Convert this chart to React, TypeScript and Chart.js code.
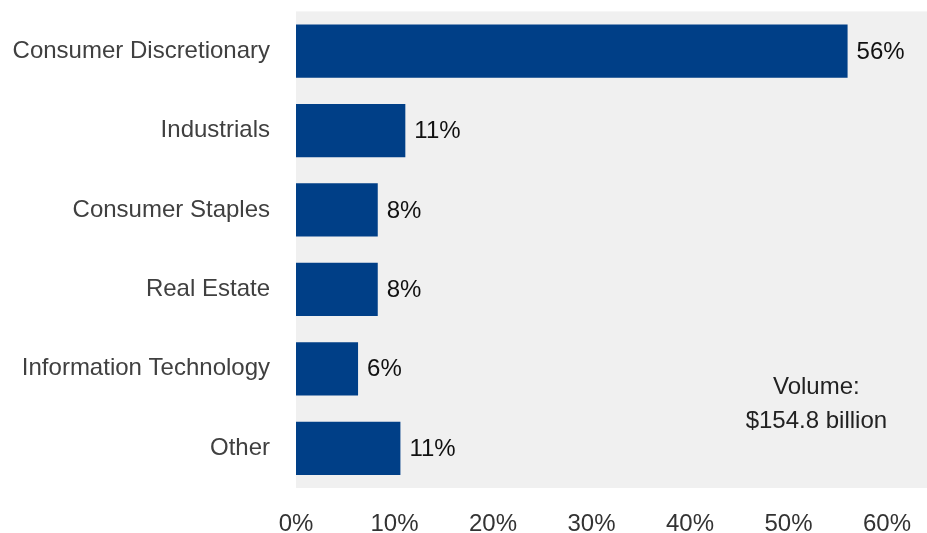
import React, { useEffect, useRef } from "react";
import { Chart, registerables } from "chart.js";

Chart.register(...registerables);

const categories = [
  "Consumer Discretionary",
  "Industrials",
  "Consumer Staples",
  "Real Estate",
  "Information Technology",
  "Other",
];
const shares = [56, 11.1, 8.3, 8.3, 6.3, 10.6];
const shareLabels = ["56%", "11%", "8%", "8%", "6%", "11%"];
const xTicks = [0, 10, 20, 30, 40, 50, 60];
const annotationLines = ["Volume:", "$154.8 billion"];

const FONT = "'Liberation Sans', Arial, sans-serif";

export default function App() {
  const ref = useRef<HTMLCanvasElement | null>(null);

  useEffect(() => {
    document.body.style.margin = "0";
    const canvas = ref.current!;
    const bgPlugin = {
      id: "bg",
      beforeDraw(chart: any) {
        const { ctx, chartArea } = chart;
        ctx.save();
        ctx.fillStyle = "#f0f0f0";
        ctx.fillRect(chartArea.left, chartArea.top, chartArea.right - chartArea.left, chartArea.bottom - chartArea.top);
        ctx.restore();
      },
    };
    const labelPlugin = {
      id: "labels",
      afterDatasetsDraw(chart: any) {
        const { ctx, chartArea } = chart;
        const meta = chart.getDatasetMeta(0);
        ctx.save();
        ctx.font = `24px ${FONT}`;
        ctx.fillStyle = "#111111";
        ctx.textBaseline = "middle";
        ctx.textAlign = "left";
        meta.data.forEach((el: any, i: number) => {
          ctx.fillText(shareLabels[i], el.x + 9, el.y + 1);
        });
        ctx.fillStyle = "#222222";
        ctx.textAlign = "center";
        const cx = chartArea.right - 112;
        ctx.fillText(annotationLines[0], cx, chartArea.top + 376);
        ctx.fillText(annotationLines[1], cx, chartArea.top + 410);
        ctx.restore();
      },
    };
    const chart = new Chart(canvas, {
      type: "bar",
      data: {
        labels: categories,
        datasets: [
          {
            data: shares,
            backgroundColor: "#003f87",
            borderWidth: 0,
            categoryPercentage: 1,
            barPercentage: 0.67,
          },
        ],
      },
      options: {
        indexAxis: "y",
        responsive: false,
        animation: false,
        devicePixelRatio: 1,
        layout: { padding: { top: 11, right: 0, left: 0, bottom: 0 } },
        plugins: {
          legend: { display: false },
          tooltip: { enabled: false },
        },
        scales: {
          x: {
            min: 0,
            max: 64.2,
            grid: { display: false, drawTicks: false },
            border: { display: false },
            afterBuildTicks(scale: any) {
              scale.ticks = xTicks.map((v) => ({ value: v }));
            },
            afterFit(scale: any) {
              scale.height = 62;
            },
            ticks: {
              padding: 22,
              color: "#333333",
              font: { family: FONT, size: 24 },
              callback: (v: any) => `${v}%`,
            },
          },
          y: {
            grid: { display: false, drawTicks: false },
            border: { display: false },
            afterFit(scale: any) {
              scale.width = 296;
            },
            ticks: {
              padding: 26,
              color: "#404040",
              font: { family: FONT, size: 24 },
            },
          },
        },
      },
      plugins: [bgPlugin, labelPlugin],
    });
    return () => chart.destroy();
  }, []);

  return (
    <div style={{ width: 927, height: 533, overflow: "hidden" }}>
      <canvas
        ref={ref}
        width={933}
        height={579}
        style={{ display: "block", marginTop: -29 }}
      />
    </div>
  );
}
